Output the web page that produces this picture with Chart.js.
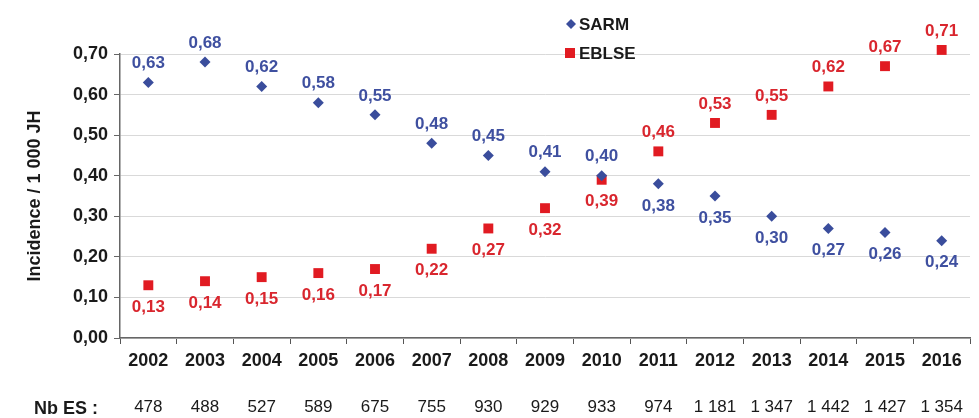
<!DOCTYPE html>
<html>
<head>
<meta charset="utf-8">
<script src="https://cdn.jsdelivr.net/npm/chart.js@4"></script>
<style>
  html, body { margin: 0; padding: 0; background: #fff; }
  #wrap { width: 979px; height: 418px; }
</style>
</head>
<body>
<div id="wrap"><canvas id="chart1"></canvas></div>
<script>
'use strict';
var YEARS = ['2002', '2003', '2004', '2005', '2006', '2007', '2008', '2009', '2010', '2011', '2012', '2013', '2014', '2015', '2016'];
var SARM = [0.63, 0.68, 0.62, 0.58, 0.55, 0.48, 0.45, 0.41, 0.40, 0.38, 0.35, 0.30, 0.27, 0.26, 0.24];
var EBLSE = [0.13, 0.14, 0.15, 0.16, 0.17, 0.22, 0.27, 0.32, 0.39, 0.46, 0.53, 0.55, 0.62, 0.67, 0.71];
var NB_ES = ['478', '488', '527', '589', '675', '755', '930', '929', '933', '974', '1 181', '1 347', '1 442', '1 427', '1 354'];

var FONT = '"Liberation Sans", Arial, sans-serif';
var BLUE = '#3a4d9c';
var RED = '#e11b22';
var CROSS = 9; // from 2011 on, the labels swap sides

var fmt = function (v) {
    return v.toFixed(2).replace('.', ',');
};

// value labels, legend and the "Nb ES :" caption
var extras = {
    id: 'extras',
    afterDatasetsDraw: function (chart) {
        var ctx = chart.ctx;
        ctx.save();
        ctx.font = 'bold 17px ' + FONT;
        ctx.textAlign = 'center';
        ctx.textBaseline = 'middle';
        chart.data.datasets.forEach(function (ds, di) {
            var meta = chart.getDatasetMeta(di);
            meta.data.forEach(function (pt, i) {
                var above = (di === 0) ? (i < CROSS) : (i >= CROSS);
                ctx.fillStyle = ds.labelColor;
                ctx.fillText(fmt(ds.data[i]), pt.x, above ? pt.y - 19 : pt.y + 22);
            });
        });

        // legend
        ctx.font = 'bold 17px ' + FONT;
        ctx.textAlign = 'left';
        ctx.fillStyle = BLUE;
        ctx.beginPath();
        ctx.moveTo(571, 19); ctx.lineTo(576, 24); ctx.lineTo(571, 29); ctx.lineTo(566, 24);
        ctx.closePath();
        ctx.fill();
        ctx.fillStyle = RED;
        ctx.fillRect(565, 48, 10, 10);
        ctx.fillStyle = '#1a1a1a';
        ctx.fillText('SARM', 579, 25);
        ctx.fillText('EBLSE', 579, 54);

        ctx.font = 'bold 18px ' + FONT;
        ctx.textAlign = 'center';
        ctx.fillText('Nb ES :', 66, 409);
        ctx.restore();
    }
};

var ctx = document.getElementById('chart1').getContext('2d');
new Chart(ctx, {
    type: 'line',
    data: {
        labels: YEARS,
        datasets: [{
            label: 'SARM',
            data: SARM,
            showLine: false,
            pointStyle: 'rectRot',
            pointRadius: 5.5,
            pointBackgroundColor: BLUE,
            pointBorderColor: BLUE,
            pointBorderWidth: 0,
            labelColor: '#3f50a0'
        }, {
            label: 'EBLSE',
            data: EBLSE,
            showLine: false,
            pointStyle: 'rect',
            pointRadius: 7,
            pointBackgroundColor: RED,
            pointBorderColor: RED,
            pointBorderWidth: 0,
            labelColor: '#d9262e'
        }]
    },
    options: {
        responsive: true,
        maintainAspectRatio: false,
        animation: false,
        clip: false,
        layout: {
            padding: { top: 54, right: 9, bottom: 0, left: 0 }
        },
        plugins: {
            legend: { display: false },
            tooltip: { enabled: false }
        },
        scales: {
            x: {
                position: 'bottom',
                weight: 0,
                offset: true,
                afterFit: function (scale) { scale.height = 48; },
                grid: {
                    offset: true,
                    drawOnChartArea: false,
                    drawTicks: true,
                    tickLength: 6,
                    color: '#555'
                },
                border: { color: '#666', width: 1.5 },
                ticks: {
                    color: '#1a1a1a',
                    padding: 6,
                    maxRotation: 0,
                    font: { family: FONT, size: 18, weight: 'bold' }
                }
            },
            x2: {
                type: 'category',
                labels: NB_ES,
                position: 'bottom',
                weight: 1,
                offset: true,
                afterFit: function (scale) { scale.height = 32; },
                grid: { display: false, drawTicks: false },
                border: { display: false },
                ticks: {
                    color: '#1a1a1a',
                    padding: 11,
                    maxRotation: 0,
                    autoSkip: false,
                    font: { family: FONT, size: 17 }
                }
            },
            y: {
                min: 0,
                max: 0.7,
                afterFit: function (scale) { scale.width = 120; },
                grid: {
                    color: '#d9d9d9',
                    tickColor: '#666',
                    tickLength: 6
                },
                border: { color: '#666', width: 1.5 },
                title: {
                    display: true,
                    text: 'Incidence / 1 000 JH',
                    color: '#1a1a1a',
                    padding: { top: 24, bottom: 0 },
                    font: { family: FONT, size: 18, weight: 'bold' }
                },
                ticks: {
                    stepSize: 0.1,
                    color: '#1a1a1a',
                    padding: 6,
                    font: { family: FONT, size: 18, weight: 'bold' },
                    callback: function (v) { return fmt(v); }
                }
            }
        }
    },
    plugins: [extras]
});
</script>
</body>
</html>
